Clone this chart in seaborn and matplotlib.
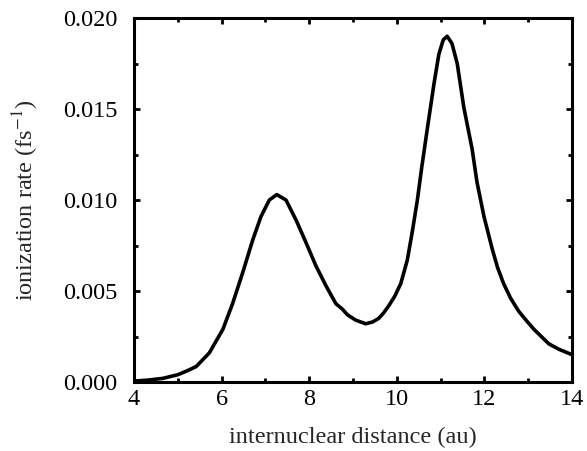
import matplotlib
matplotlib.use("Agg")
import matplotlib.pyplot as plt
import seaborn as sns
import pandas as pd
from matplotlib.ticker import MultipleLocator, FormatStrFormatter

# valeurs
distance = [4.00, 4.30, 4.66, 5.00, 5.20, 5.42, 5.72, 6.03, 6.25, 6.48, 6.71,
            6.90, 7.09, 7.26, 7.47, 7.70, 7.92, 8.15, 8.38, 8.61, 8.76, 8.87,
            9.06, 9.29, 9.45, 9.59, 9.70, 9.82, 9.95, 10.09, 10.24, 10.35,
            10.47, 10.57, 10.69, 10.85, 10.96, 11.06, 11.15, 11.26, 11.38,
            11.53, 11.72, 11.83, 11.99, 12.18, 12.30, 12.44, 12.60, 12.78,
            12.95, 13.13, 13.30, 13.47, 13.70, 14.00]
taux = [0.00005, 0.0001, 0.0002, 0.0004, 0.0006, 0.00085, 0.0016, 0.0029,
        0.0043, 0.0060, 0.0078, 0.0091, 0.0100, 0.0103, 0.0100, 0.0089,
        0.0077, 0.0064, 0.0053, 0.0043, 0.0040, 0.0037, 0.0034, 0.0032,
        0.0033, 0.0035, 0.0038, 0.0042, 0.0047, 0.0054, 0.0067, 0.0082,
        0.0100, 0.0118, 0.0138, 0.0164, 0.0180, 0.0188, 0.0190, 0.0186,
        0.0175, 0.0151, 0.0128, 0.0110, 0.0091, 0.0073, 0.0063, 0.0054,
        0.0046, 0.0039, 0.0034, 0.0029, 0.0025, 0.0021, 0.0018, 0.0015]

df = pd.DataFrame({"distance": distance, "taux": taux})

sns.set_style("ticks")
plt.rcParams["font.family"] = ["Liberation Serif", "DejaVu Serif"]
plt.rcParams["mathtext.fontset"] = "stix"

fig = plt.figure(figsize=(5.87, 4.51), dpi=100)
ax = fig.add_axes([0.2283, 0.153, 0.7461, 0.807])

sns.lineplot(data=df, x="distance", y="taux", color="black", linewidth=2.6,
             solid_joinstyle="round", ax=ax)

ax.set_xlim(4, 14)
ax.set_ylim(0, 0.020)
ax.xaxis.set_major_locator(MultipleLocator(2))
ax.xaxis.set_minor_locator(MultipleLocator(1))
ax.yaxis.set_major_locator(MultipleLocator(0.005))
ax.yaxis.set_minor_locator(MultipleLocator(0.0025))
ax.yaxis.set_major_formatter(FormatStrFormatter("%.3f"))

ax.tick_params(which="both", direction="in", top=True, right=True,
               width=2, labelsize=17.5, colors="black")
ax.tick_params(axis="x", which="both", pad=5)
ax.tick_params(axis="y", which="both", pad=12)
ax.tick_params(which="major", length=4)
ax.tick_params(which="minor", length=3)
for s in ax.spines.values():
    s.set_linewidth(2.2)
    s.set_color("black")

ax.set_xlabel("internuclear distance (au)", fontsize=17.5, labelpad=12)
ax.set_ylabel(r"ionization rate (fs$^{-1}$)", fontsize=17.5, labelpad=16)

fig.savefig("out.png", dpi=100)
